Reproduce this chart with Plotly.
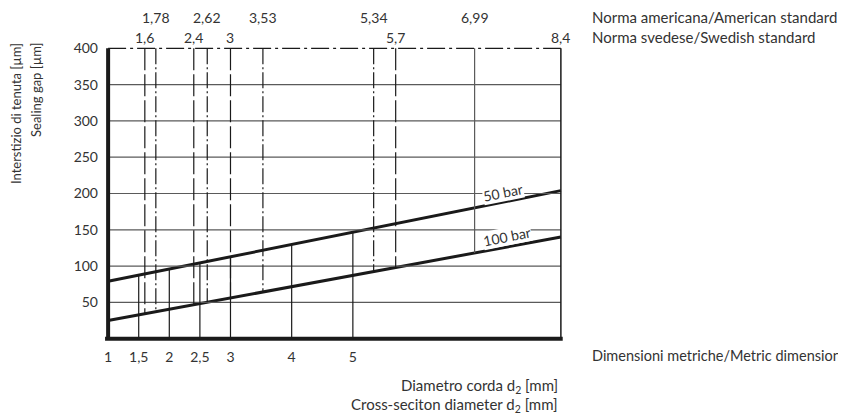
import plotly.graph_objects as go
import numpy as np

# ---- data ----
line_x = [1, 8.4]                  # cross-section diameter d2 [mm]
gap_50bar = [79, 204]              # sealing gap [um] at 50 bar
gap_100bar = [25, 140]             # sealing gap [um] at 100 bar

metric_dims = [1, 1.5, 2, 2.5, 3, 4, 5]
american_dims = [1.78, 2.62, 3.53, 5.34, 6.99]
swedish_dims = [1.6, 2.4, 3, 5.7, 8.4]
gap_ticks = [50, 100, 150, 200, 250, 300, 350, 400]

ink = '#1a1a1a'
grid_color = '#5a5a5a'
text_color = '#333333'
font_family = 'Lato, "Open Sans", sans-serif'


def comma(v):
    return f"{v:g}".replace('.', ',')


def on_line(x, ys):
    return float(np.interp(x, line_x, ys))


shapes = []

# horizontal grid
for g in gap_ticks[:-1]:
    shapes.append(dict(type='line', x0=line_x[0], x1=line_x[1], y0=g, y1=g,
                       line=dict(color=grid_color, width=1.2)))
# top dash-dot border
shapes.append(dict(type='line', x0=line_x[0], x1=line_x[1], y0=400, y1=400,
                   line=dict(color=ink, width=1.2, dash='18px,4px,3px,4px')))

# metric dims: solid from 0 up to the 50 bar line
for d in metric_dims[1:]:
    shapes.append(dict(type='line', x0=d, x1=d, y0=0, y1=on_line(d, gap_50bar),
                       line=dict(color=ink, width=1.2)))

# american standard: dash-dot from 400 down to the 100 bar line
for d in american_dims:
    dash = 'solid' if d == 6.99 else '16px,3px,2px,3px'
    col = grid_color if d == 6.99 else ink
    shapes.append(dict(type='line', x0=d, x1=d, y0=400, y1=on_line(d, gap_100bar),
                       line=dict(color=col, width=1.2, dash=dash)))

# swedish standard: long dash from 400 down to the 100 bar line
for d in swedish_dims:
    if d == 8.4:
        shapes.append(dict(type='line', x0=d, x1=d, y0=0, y1=400,
                           line=dict(color=ink, width=1.5)))
        continue
    shapes.append(dict(type='line', x0=d, x1=d, y0=400, y1=on_line(d, gap_100bar),
                       line=dict(color=ink, width=1.2, dash='22px,4px')))

# heavy axes
shapes.append(dict(type='line', x0=1, x1=1, y0=0, y1=400, line=dict(color=ink, width=4)))
shapes.append(dict(type='line', x0=0.95, x1=8.43, y0=0, y1=0, line=dict(color=ink, width=4)))

fig = go.Figure()
fig.add_trace(go.Scatter(x=line_x, y=gap_50bar, mode='lines',
                         line=dict(color=ink, width=3), showlegend=False, hoverinfo='skip'))
fig.add_trace(go.Scatter(x=line_x, y=gap_100bar, mode='lines',
                         line=dict(color=ink, width=3), showlegend=False, hoverinfo='skip'))

annotations = []
for d in american_dims:
    annotations.append(dict(x=d, y=400, xref='x', yref='y', text=comma(d), showarrow=False,
                            yshift=31, font=dict(size=14, color=text_color)))
for d in swedish_dims:
    annotations.append(dict(x=d, y=400, xref='x', yref='y', text=comma(d), showarrow=False,
                            yshift=11, font=dict(size=14, color=text_color)))

side = dict(xref='x', yref='y', x=8.4, xshift=29, xanchor='left', showarrow=False,
            font=dict(size=15, color=text_color))
annotations.append(dict(side, y=400, yshift=31, text='Norma americana/American standard'))
annotations.append(dict(side, y=400, yshift=11, text='Norma svedese/Swedish standard'))
annotations.append(dict(side, y=0, yshift=-17, text='Dimensioni metriche/Metric dimensions',
                        font=dict(size=14.5, color=text_color)))

annotations.append(dict(x=8.4, y=0, xref='x', yref='y', xanchor='right', yshift=-47, xshift=-1,
                        showarrow=False, text='Diametro corda d<sub>2</sub> [mm]',
                        font=dict(size=15, color=text_color)))
annotations.append(dict(x=8.4, y=0, xref='x', yref='y', xanchor='right', yshift=-66, xshift=-1,
                        showarrow=False, text='Cross-seciton diameter d<sub>2</sub> [mm]',
                        font=dict(size=15, color=text_color)))

annotations.append(dict(x=-0.186, y=1.01, xref='paper', yref='paper', xanchor='center',
                        yanchor='top', textangle=-90, showarrow=False,
                        text='Interstizio di tenuta [µm]', font=dict(size=13, color=text_color)))
annotations.append(dict(x=-0.142, y=1.01, xref='paper', yref='paper', xanchor='center',
                        yanchor='top', textangle=-90, showarrow=False,
                        text='Sealing gap [µm]', font=dict(size=13, color=text_color)))

annotations.append(dict(x=7.45, y=202, xref='x', yref='y', text='50 bar', showarrow=False,
                        textangle=-11.3, bgcolor='white', borderpad=0,
                        font=dict(size=14, color=text_color)))
annotations.append(dict(x=7.52, y=141, xref='x', yref='y', text='100 bar', showarrow=False,
                        textangle=-11.3, bgcolor='white', borderpad=0,
                        font=dict(size=14, color=text_color)))

# page has an 8px body margin, so the figure is sized to fit the 846x417 window
fig.update_layout(
    width=838, height=409,
    margin=dict(l=94, r=279, t=36, b=74),
    paper_bgcolor='white', plot_bgcolor='white',
    font=dict(family=font_family, size=14, color=text_color),
    shapes=shapes, annotations=annotations,
    xaxis=dict(range=[0.9, 8.5], showgrid=False, zeroline=False, showline=False,
               tickvals=metric_dims, ticktext=[comma(v) for v in metric_dims],
               ticks='', ticklabelstandoff=4, tickfont=dict(size=14, color=text_color)),
    yaxis=dict(range=[-6, 406], showgrid=False, zeroline=False, showline=False,
               tickvals=gap_ticks, ticks='', ticklabelstandoff=3,
               tickfont=dict(size=14, color=text_color)),
)

fig.write_html("out.html")
